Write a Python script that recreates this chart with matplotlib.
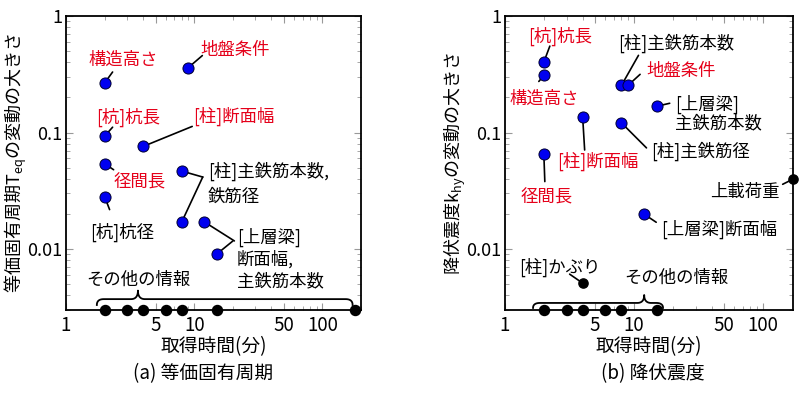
import numpy as np
import matplotlib
matplotlib.use("Agg")
import matplotlib.pyplot as plt
import matplotlib.transforms as mtransforms
from matplotlib.ticker import FixedLocator, NullFormatter, LogLocator

plt.rcParams['font.family'] = ['Noto Sans CJK JP', 'DejaVu Sans']

RED = '#e5001a'
BLUE = '#0000f0'

# (a) 等価固有周期
a_names = ['構造高さ', '地盤条件', '[杭]杭長', '[柱]断面幅', '径間長',
           '[柱]主鉄筋本数', '[杭]杭径', '[柱]鉄筋径', '[上層梁]断面幅', '[上層梁]主鉄筋本数']
a_time = [2, 9, 2, 4, 2, 8, 2, 8, 12, 15]
a_var = [0.266, 0.361, 0.093, 0.076, 0.054, 0.0467, 0.0282, 0.0171, 0.0171, 0.00906]
a_other_time = [2, 3, 4, 6, 8, 15, 180]

# (b) 降伏震度
b_names = ['[杭]杭長', '構造高さ', '[柱]主鉄筋本数', '地盤条件', '[上層梁]主鉄筋本数',
           '[柱]断面幅', '[柱]主鉄筋径', '径間長', '[上層梁]断面幅']
b_time = [2, 2, 8, 9, 15, 4, 8, 2, 12]
b_var = [0.402, 0.309, 0.254, 0.254, 0.168, 0.136, 0.121, 0.066, 0.0199]
b_black_names = ['上載荷重', '[柱]かぶり']
b_black_time = [170, 4]
b_black_var = [0.0397, 0.0051]
b_other_time = [2, 3, 4, 6, 8, 15]

xticks = [1, 5, 10, 50, 100]
yticks = [0.01, 0.1, 1]
FS = 12.5

fig = plt.figure(figsize=(8, 3.94), dpi=100)
axa = fig.add_axes([66/800, 84/394, 295/800, 294/394])
axb = fig.add_axes([505/800, 84/394, 288/800, 294/394])


def setup(ax, xmax, ylabel):
    ax.set_xscale('log'); ax.set_yscale('log')
    ax.set_xlim(1, xmax); ax.set_ylim(0.003, 1)
    ax.xaxis.set_major_locator(FixedLocator(xticks))
    ax.set_xticklabels([str(t) for t in xticks])
    ax.yaxis.set_major_locator(FixedLocator(yticks))
    ax.set_yticklabels(['0.01', '0.1', '1'])
    ax.xaxis.set_minor_locator(LogLocator(subs=np.arange(2, 10)))
    ax.yaxis.set_minor_locator(LogLocator(subs=np.arange(2, 10)))
    ax.xaxis.set_minor_formatter(NullFormatter())
    ax.yaxis.set_minor_formatter(NullFormatter())
    ax.tick_params(which='both', direction='in', top=True, right=True, color='#999999')
    ax.tick_params(which='major', length=5, width=0.8, labelsize=13.5)
    ax.tick_params(which='minor', length=3, width=0.6)
    ax.tick_params(axis='x', pad=3.5)
    ax.tick_params(axis='y', pad=2.5, labelsize=13)
    for s in ax.spines.values():
        s.set_linewidth(1.3)
    ax.set_xlabel('取得時間(分)', fontsize=13.5)
    ax.xaxis.set_label_coords(0.5, -0.088)
    ax.set_ylabel(ylabel, fontsize=13)


setup(axa, 200, '等価固有周期T$_{\\mathregular{eq}}$の変動の大きさ')
setup(axb, 171, '降伏震度k$_{\\mathregular{hy}}$の変動の大きさ')
axa.yaxis.set_label_coords(-0.127, 0.5)
axb.yaxis.set_label_coords(-0.13, 0.5)


def leader(ax, x, y, dx, dy):
    ax.annotate('', xy=(x, y), xytext=(dx, dy), textcoords='offset pixels',
                arrowprops=dict(arrowstyle='-', lw=1.2, color='black',
                                shrinkA=0, shrinkB=0), annotation_clip=False, zorder=2)


def label(ax, x, y, text, color, dx, dy, ha='left'):
    ax.annotate(text, xy=(x, y), xytext=(dx, dy), textcoords='offset pixels',
                ha=ha, va='center', fontsize=FS, color=color, annotation_clip=False)


def brace(ax, x1, xm, x2, y_end, y_flat, y_tip, r=7):
    trans = mtransforms.blended_transform_factory(ax.transData, ax.transAxes)
    lo, hi = ax.get_xlim()
    du = r / (ax.get_window_extent().width / np.log10(hi / lo))
    u1, um, u2 = np.log10(x1), np.log10(xm), np.log10(x2)
    t = np.linspace(0, 1, 15)[:, None]

    def qb(p0, p1, p2):
        p0, p1, p2 = map(np.array, (p0, p1, p2))
        return (1 - t) ** 2 * p0 + 2 * (1 - t) * t * p1 + t ** 2 * p2
    pts = np.vstack([
        qb((u1, y_end), (u1, y_flat), (u1 + du, y_flat)),
        qb((um - du, y_flat), (um, y_flat), (um, y_tip)),
        qb((um, y_tip), (um, y_flat), (um + du, y_flat)),
        qb((u2 - du, y_flat), (u2, y_flat), (u2, y_end)),
    ])
    ax.plot(10 ** pts[:, 0], pts[:, 1], color='black', lw=1.3,
            transform=trans, clip_on=False)


# ---- (a)
axa.scatter(a_time, a_var, s=64, color=BLUE, edgecolor='#000030', lw=0.7, zorder=4, clip_on=False)
bot_a = mtransforms.blended_transform_factory(axa.transData, axa.transAxes)
axa.scatter(a_other_time, [0] * len(a_other_time), s=52, color='black',
            transform=bot_a, zorder=4, clip_on=False)

leader(axa, a_time[0], a_var[0], 8, 11)
label(axa, a_time[0], a_var[0], a_names[0], RED, 19, 23, 'center')
leader(axa, a_time[1], a_var[1], 14, 12)
label(axa, a_time[1], a_var[1], a_names[1], RED, 12, 18)
leader(axa, a_time[2], a_var[2], 8, 9)
label(axa, a_time[2], a_var[2], a_names[2], RED, 24, 19, 'center')
leader(axa, a_time[3], a_var[3], 49, 20)
label(axa, a_time[3], a_var[3], a_names[3], RED, 50, 30)
leader(axa, a_time[4], a_var[4], 9, -6)
label(axa, a_time[4], a_var[4], a_names[4], RED, 35, -19, 'center')
leader(axa, a_time[5], a_var[5], 21, -6)
leader(axa, a_time[7], a_var[7], 21, 45)
label(axa, a_time[5], a_var[5], a_names[5] + ',', 'black', 26, 0)
label(axa, a_time[5], a_var[5], a_names[7][3:], 'black', 26, -26)
leader(axa, a_time[6], a_var[6], 5, -13)
label(axa, a_time[6], a_var[6], a_names[6], 'black', -14, -36)
leader(axa, a_time[8], a_var[8], 30, -19)
leader(axa, a_time[9], a_var[9], 16, 13)
label(axa, a_time[9], a_var[9], a_names[8][:5], 'black', 20, 17)
label(axa, a_time[9], a_var[9], a_names[8][5:] + ',', 'black', 20, -5)
label(axa, a_time[9], a_var[9], a_names[9][5:], 'black', 20, -27)

brace(axa, 1.74, 3.64, 172, 0.017, 0.037, 0.066)
axa.text(3.7, 0.102, 'その他の情報', transform=bot_a, ha='center', va='center', fontsize=FS)

# ---- (b)
axb.scatter(b_time, b_var, s=64, color=BLUE, edgecolor='#000030', lw=0.7, zorder=4, clip_on=False)
axb.scatter(b_black_time, b_black_var, s=44, color='black', zorder=4, clip_on=False)
bot_b = mtransforms.blended_transform_factory(axb.transData, axb.transAxes)
axb.scatter(b_other_time, [0] * len(b_other_time), s=52, color='black',
            transform=bot_b, zorder=4, clip_on=False)

leader(axb, b_time[0], b_var[0], 6, 16)
label(axb, b_time[0], b_var[0], b_names[0], RED, 16, 26, 'center')
leader(axb, b_time[1], b_var[1], -5, -6)
label(axb, b_time[1], b_var[1], b_names[1], RED, 0, -23, 'center')
leader(axb, b_time[2], b_var[2], 17, 30)
label(axb, b_time[2], b_var[2], b_names[2], 'black', -3, 42)
leader(axb, b_time[3], b_var[3], 12, 11)
label(axb, b_time[3], b_var[3], b_names[3], RED, 18, 14)
leader(axb, b_time[4], b_var[4], 13, 3)
label(axb, b_time[4], b_var[4], b_names[4][:5], 'black', 18, 2)
label(axb, b_time[4], b_var[4], b_names[4][5:], 'black', 18, -17)
leader(axb, b_time[5], b_var[5], 2, -33)
label(axb, b_time[5], b_var[5], b_names[5], RED, -26, -44)
leader(axb, b_time[6], b_var[6], 25, -25)
label(axb, b_time[6], b_var[6], b_names[6], 'black', 30, -28)
leader(axb, b_time[7], b_var[7], 1, -28)
label(axb, b_time[7], b_var[7], b_names[7], RED, 3, -44, 'center')
leader(axb, b_time[8], b_var[8], 12, -8)
label(axb, b_time[8], b_var[8], b_names[8], 'black', 17, -15)
leader(axb, b_black_time[0], b_black_var[0], -10, -5)
label(axb, b_black_time[0], b_black_var[0], b_black_names[0], 'black', -13, -13, 'right')
leader(axb, b_black_time[1], b_black_var[1], -13, 9)
label(axb, b_black_time[1], b_black_var[1], b_black_names[1], 'black', -64, 16)

brace(axb, 1.65, 12, 16.8, 0.007, 0.024, 0.051)
axb.text(21.4, 0.108, 'その他の情報', transform=bot_b, ha='center', va='center', fontsize=FS)

fig.text(203/800, 1 - 374/394, '(a) 等価固有周期', ha='center', va='center', fontsize=13.5)
fig.text(653/800, 1 - 374/394, '(b) 降伏震度', ha='center', va='center', fontsize=13.5)

fig.savefig('out.png', dpi=100)
